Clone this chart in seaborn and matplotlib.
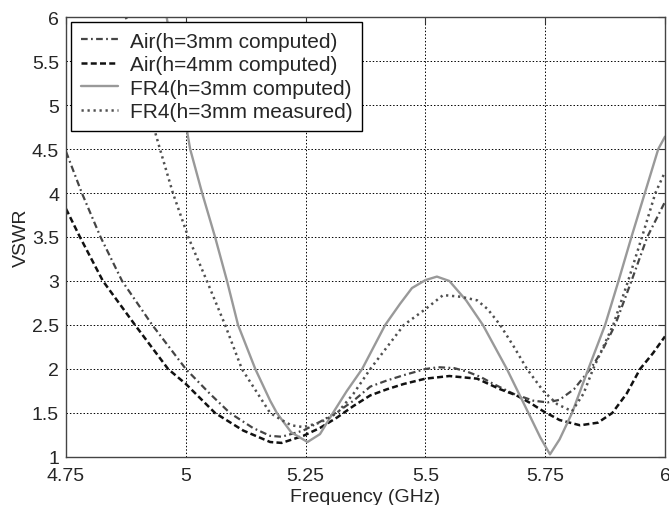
import numpy as np
import pandas as pd
import seaborn as sns
import matplotlib.pyplot as plt

# values
air3_f = [4.75, 4.783, 4.822, 4.867, 4.93, 5.0, 5.05, 5.092, 5.14, 5.176, 5.2, 5.245, 5.28,
          5.316, 5.35, 5.385, 5.42, 5.455, 5.5, 5.527, 5.56, 5.587, 5.615, 5.642, 5.683,
          5.725, 5.755, 5.78, 5.81, 5.847, 5.87, 5.896, 5.93, 5.963, 6.0]
air3_v = [4.47, 4.0, 3.5, 3.0, 2.5, 2.0, 1.72, 1.5, 1.33, 1.24, 1.23, 1.30, 1.40,
          1.51, 1.64, 1.80, 1.87, 1.93, 2.0, 2.02, 2.01, 1.97, 1.91, 1.83, 1.72,
          1.64, 1.62, 1.65, 1.77, 2.02, 2.22, 2.5, 3.0, 3.5, 3.9]

air4_f = [4.75, 4.779, 4.827, 4.894, 4.963, 5.0, 5.061, 5.12, 5.176, 5.2, 5.245, 5.28,
          5.316, 5.35, 5.385, 5.42, 5.455, 5.5, 5.55, 5.608, 5.656, 5.69, 5.72, 5.746,
          5.78, 5.823, 5.86, 5.89, 5.92, 5.948, 5.975, 6.0]
air4_v = [3.82, 3.5, 3.0, 2.5, 2.0, 1.83, 1.5, 1.3, 1.17, 1.16, 1.24, 1.33,
          1.45, 1.58, 1.70, 1.77, 1.83, 1.89, 1.92, 1.89, 1.77, 1.70, 1.61, 1.52,
          1.42, 1.36, 1.39, 1.5, 1.72, 2.0, 2.18, 2.37]

fr4c_f = [4.96, 4.975, 4.99, 5.003, 5.009, 5.034, 5.061, 5.086, 5.109, 5.145, 5.176, 5.19,
          5.22, 5.254, 5.28, 5.307, 5.336, 5.368, 5.416, 5.447, 5.472, 5.5, 5.524, 5.55,
          5.585, 5.62, 5.67, 5.715, 5.74, 5.76, 5.78, 5.806, 5.84, 5.875, 5.903, 5.93,
          5.958, 5.986, 6.0]
fr4c_v = [6.0, 5.5, 5.05, 4.69, 4.5, 4.0, 3.5, 3.0, 2.5, 2.0, 1.64, 1.5,
          1.28, 1.17, 1.26, 1.5, 1.75, 2.0, 2.5, 2.74, 2.92, 3.01, 3.05, 3.0,
          2.78, 2.5, 2.0, 1.5, 1.22, 1.03, 1.2, 1.5, 2.0, 2.5, 3.0, 3.5,
          4.0, 4.5, 4.64]

fr4m_f = [4.875, 4.9, 4.92, 4.936, 4.946, 4.973, 5.005, 5.044, 5.082, 5.117, 5.15, 5.176,
          5.197, 5.22, 5.245, 5.28, 5.316, 5.35, 5.385, 5.42, 5.455, 5.5, 5.537, 5.575,
          5.608, 5.63, 5.656, 5.685, 5.712, 5.746, 5.775, 5.806, 5.83, 5.85, 5.892,
          5.923, 5.952, 5.98, 6.0]
fr4m_v = [6.0, 5.4, 4.98, 4.69, 4.5, 4.0, 3.5, 3.0, 2.5, 2.0, 1.72, 1.5,
          1.43, 1.36, 1.34, 1.39, 1.5, 1.72, 2.0, 2.25, 2.5, 2.68, 2.84, 2.82,
          2.78, 2.68, 2.5, 2.25, 2.0, 1.75, 1.6, 1.52, 1.72, 2.0, 2.5,
          3.0, 3.5, 4.0, 4.24]

labels = ["Air(h=3mm computed)", "Air(h=4mm computed)",
          "FR4(h=3mm computed)", "FR4(h=3mm measured)"]
x_ticks = [4.75, 5, 5.25, 5.5, 5.75, 6]
x_ticklabels = ["4.75", "5", "5.25", "5.5", "5.75", "6"]
y_ticks = [1, 1.5, 2, 2.5, 3, 3.5, 4, 4.5, 5, 5.5, 6]
y_ticklabels = ["1", "1.5", "2", "2.5", "3", "3.5", "4", "4.5", "5", "5.5", "6"]

sns.set_style("white")
plt.rcParams['font.family'] = ['Liberation Sans', 'DejaVu Sans']

fig = plt.figure(figsize=(6.69, 5.06), dpi=100)
ax = fig.add_axes([0.0987, 0.0949, 0.8953, 0.8695])

series = [
    (air3_f, air3_v, "#454545", (0, (3, 1.5, 0.8, 1.5)), 1.6),
    (air4_f, air4_v, "#111111", (0, (2.4, 1.3)), 1.8),
    (fr4c_f, fr4c_v, "#999999", "-", 1.7),
    (fr4m_f, fr4m_v, "#505050", (0, (0.9, 1.5)), 1.8),
]
for (f, v, c, ls, lw), lab in zip(series, labels):
    sns.lineplot(x=f, y=v, ax=ax, color=c, linestyle=ls, linewidth=lw,
                 label=lab, errorbar=None, sort=False)

ax.set_xlim(4.75, 6)
ax.set_ylim(1, 6)
ax.set_xticks(x_ticks)
ax.set_xticklabels(x_ticklabels)
ax.set_yticks(y_ticks)
ax.set_yticklabels(y_ticklabels)
ax.grid(True, linestyle=(0, (1.5, 2)), color="black", linewidth=0.7)
ax.tick_params(direction="in", top=True, right=True, length=5, width=0.8,
               labelsize=14, color="#333333", pad=5)
ax.tick_params(axis="x", pad=7)
for sp in ax.spines.values():
    sp.set_visible(True)
    sp.set_color("#444444")
    sp.set_linewidth(1)

ax.set_xlabel("Frequency (GHz)", fontsize=14)
ax.set_ylabel("VSWR", fontsize=14)
ax.xaxis.set_label_coords(0.5, -0.071)
ax.yaxis.set_label_coords(-0.061, 0.5)

leg = ax.legend(loc="upper left", fontsize=15, frameon=True, fancybox=False,
                edgecolor="black", framealpha=1, borderaxespad=0.25,
                labelspacing=0.22, handlelength=1.8, handletextpad=0.55, borderpad=0.45)
leg.get_frame().set_linewidth(1)

plt.savefig("out.png", dpi=100)
plt.close()
